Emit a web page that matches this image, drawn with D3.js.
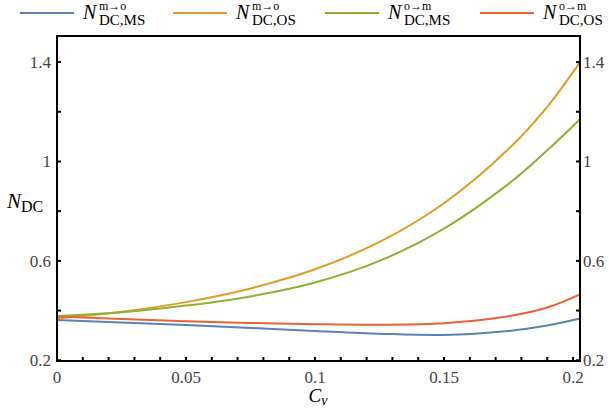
<!DOCTYPE html>
<html>
<head>
<meta charset="utf-8">
<script src="https://cdn.jsdelivr.net/npm/d3@7"></script>
<style>
  body { margin: 0; background: #fff; }
</style>
</head>
<body>
<div id="chart"></div>
<script>
// data
var cv = [0, 0.025, 0.05, 0.075, 0.1, 0.125, 0.15, 0.175, 0.19, 0.2027];
var msMO = [0.362, 0.352, 0.342, 0.330, 0.318, 0.307, 0.302, 0.318, 0.340, 0.368];
var osMO = [0.368, 0.395, 0.434, 0.489, 0.566, 0.676, 0.832, 1.050, 1.220, 1.400];
var msOM = [0.378, 0.393, 0.420, 0.457, 0.513, 0.600, 0.730, 0.910, 1.045, 1.170];
var osOM = [0.376, 0.366, 0.357, 0.350, 0.345, 0.343, 0.349, 0.377, 0.412, 0.465];

var seriesNames = [
  { sup: "m\u2192o", sub: "DC,MS" },
  { sup: "m\u2192o", sub: "DC,OS" },
  { sup: "o\u2192m", sub: "DC,MS" },
  { sup: "o\u2192m", sub: "DC,OS" }
];
var seriesValues = [msMO, osMO, msOM, osOM];
var colors = ["#5E81B5", "#E19C24", "#8FB032", "#EB6235"];

var xTicks = [0, 0.05, 0.1, 0.15, 0.2];
var xMinor = d3.range(0, 0.2001, 0.01);
var yTicks = [0.2, 0.6, 1, 1.4];
var yMinor = [0.2, 0.4, 0.6, 0.8, 1.0, 1.2, 1.4];

var FONT = "'Liberation Serif', 'DejaVu Serif', serif";

var W = 609, H = 415;
var margin = { top: 36, right: 29, bottom: 54, left: 57 },
    width = W - margin.left - margin.right,
    height = H - margin.top - margin.bottom;

var svg = d3.select("#chart").append("svg")
    .attr("width", W).attr("height", H)
    .attr("font-family", FONT);

var g = svg.append("g")
    .attr("transform", "translate(" + margin.left + "," + margin.top + ")");

var x = d3.scaleLinear().domain([0, 0.2027]).range([0, width]);
var y = d3.scaleLinear().domain([0.197, 1.505]).range([height, 0]);

// curves
var line = d3.line()
    .x(function(d) { return x(d[0]); })
    .y(function(d) { return y(d[1]); })
    .curve(d3.curveCatmullRom.alpha(0.5));

seriesValues.forEach(function(vals, i) {
  g.append("path")
    .datum(cv.map(function(c, j) { return [c, vals[j]]; }))
    .attr("fill", "none")
    .attr("stroke", colors[i])
    .attr("stroke-width", 2)
    .attr("d", line);
});

// frame
g.append("rect")
  .attr("width", width).attr("height", height)
  .attr("fill", "none").attr("stroke", "#000").attr("stroke-width", 2);

// ticks (pointing inward)
var tk = 4;
xMinor.forEach(function(t) {
  g.append("line")
    .attr("x1", x(t)).attr("x2", x(t))
    .attr("y1", height).attr("y2", height - tk)
    .attr("stroke", "#000").attr("stroke-width", 2);
});
yMinor.forEach(function(t) {
  g.append("line").attr("x1", 0).attr("x2", tk)
    .attr("y1", y(t)).attr("y2", y(t))
    .attr("stroke", "#000").attr("stroke-width", 2);
  g.append("line").attr("x1", width).attr("x2", width - tk)
    .attr("y1", y(t)).attr("y2", y(t))
    .attr("stroke", "#000").attr("stroke-width", 2);
});

var fmt = function(d) { return String(+d.toFixed(2)); };

g.selectAll(".xl").data(xTicks).enter().append("text")
  .attr("x", function(d) { return x(d); })
  .attr("y", height + 22)
  .attr("text-anchor", "middle")
  .attr("fill", "#444").style("font-size", "17px")
  .text(fmt);

g.selectAll(".yl").data(yTicks).enter().append("text")
  .attr("x", -6)
  .attr("y", function(d) { return y(d) + 6; })
  .attr("text-anchor", "end")
  .attr("fill", "#444").style("font-size", "17px")
  .text(fmt);

g.selectAll(".yr").data(yTicks).enter().append("text")
  .attr("x", width + 3)
  .attr("y", function(d) { return y(d) + 6; })
  .attr("text-anchor", "start")
  .attr("fill", "#444").style("font-size", "17px")
  .text(fmt);

// axis labels
var xl = svg.append("text")
  .attr("x", 318).attr("y", 402)
  .attr("text-anchor", "middle")
  .style("font-size", "19px");
xl.append("tspan").style("font-style", "italic").text("C");
xl.append("tspan").attr("dy", 3).style("font-size", "14px").style("font-style", "italic").text("v");

var yl = svg.append("text")
  .attr("x", 7).attr("y", 208)
  .style("font-size", "21px");
yl.append("tspan").style("font-style", "italic").text("N");
yl.append("tspan").attr("dy", 4).style("font-size", "16px").text("DC");

// legend
var legX = [20, 173, 325, 480];
seriesNames.forEach(function(s, i) {
  var lg = svg.append("g").attr("transform", "translate(" + legX[i] + ",0)");
  lg.append("line")
    .attr("x1", 0).attr("x2", 54)
    .attr("y1", 13).attr("y2", 13)
    .attr("stroke", colors[i]).attr("stroke-width", 2);
  lg.append("text")
    .attr("x", 63).attr("y", 19)
    .style("font-size", "20px").style("font-style", "italic")
    .text("N");
  lg.append("text")
    .attr("x", 79).attr("y", 10)
    .style("font-size", "12px")
    .text(s.sup);
  lg.append("text")
    .attr("x", 79).attr("y", 25)
    .style("font-size", "15px")
    .text(s.sub);
});
</script>
</body>
</html>
